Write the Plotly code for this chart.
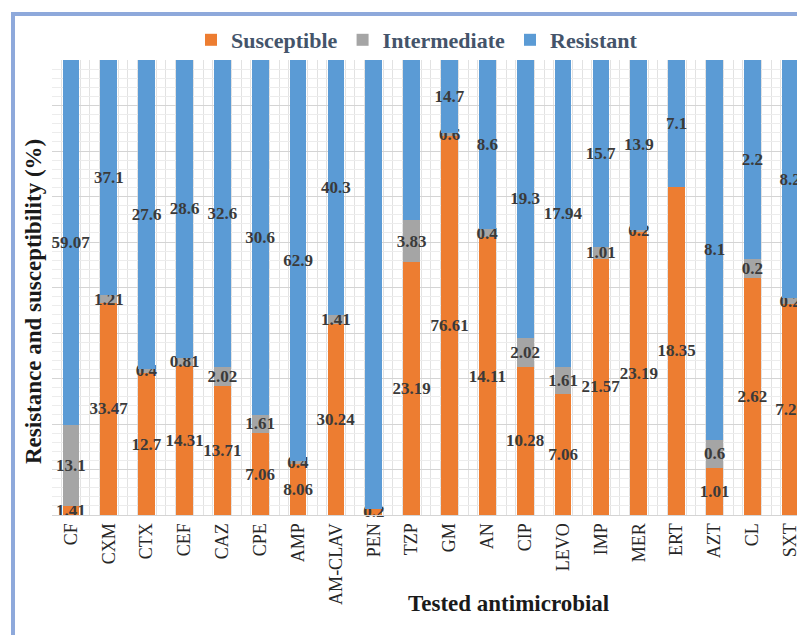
import plotly.graph_objects as go

categories = ["CF", "CXM", "CTX", "CEF", "CAZ", "CPE", "AMP", "AM-CLAV", "PEN", "TZP",
              "GM", "AN", "CIP", "LEVO", "IMP", "MER", "ERT", "AZT", "CL", "SXT"]
susceptible = [1.41, 33.47, 12.7, 14.31, 13.71, 7.06, 8.06, 30.24, 0.2, 23.19,
               76.61, 14.11, 10.28, 7.06, 21.57, 23.19, 18.35, 1.01, 2.62, 7.26]
intermediate = [13.1, 1.21, 0.4, 0.81, 2.02, 1.61, 0.4, 1.41, None, 3.83,
                0.6, 0.4, 2.02, 1.61, 1.01, 0.2, None, 0.6, 0.2, 0.2]
resistant = [59.07, 37.1, 27.6, 28.6, 32.6, 30.6, 62.9, 40.3, 14.9, 14.7,
             14.7, 8.6, 19.3, 17.94, 15.7, 13.9, 7.1, 8.1, 2.2, 8.2]

series = [
    ("Susceptible", susceptible, "#ED7D31"),
    ("Intermediate", intermediate, "#A5A5A5"),
    ("Resistant", resistant, "#5B9BD5"),
]

SERIF = "Liberation Serif, Times New Roman, serif"
xpos = list(range(len(categories)))

fig = go.Figure()
for name, vals, color in series:
    fig.add_trace(go.Bar(
        x=xpos,
        y=[0 if v is None else v for v in vals],
        name=name,
        marker=dict(color=color, line=dict(width=0)),
        text=["" if v is None else f"{v:g}" for v in vals],
        textposition="inside",
        insidetextanchor="middle",
        constraintext="none",
        textangle=0,
        textfont=dict(family=SERIF, size=17, color="#3a3a3a", weight="bold"),
        cliponaxis=False,
        hoverinfo="skip",
    ))

# page body has an 8px margin, so the figure is 8px smaller and offset
OFF = 8
W, H = 805 - OFF, 643 - 2 * OFF
ML, MR, MT = 52 - OFF, 0, 60 - OFF
PLOT_BOTTOM = 515 - OFF
MB = H - PLOT_BOTTOM
pw = W - ML - MR
ph = H - MT - MB

def px_x(x):
    return (x - OFF - ML) / pw

def px_y(y):
    return (PLOT_BOTTOM - (y - OFF)) / ph

fig.update_layout(
    width=W, height=H,
    barmode="stack",
    barnorm="percent",
    bargap=0.56,
    paper_bgcolor="white",
    plot_bgcolor="white",
    margin=dict(l=ML, r=MR, t=MT, b=MB),
    showlegend=True,
    legend=dict(
        orientation="h",
        x=px_x(417), xanchor="center",
        y=px_y(40), yanchor="middle",
        traceorder="normal",
        font=dict(family=SERIF, size=22, color="#44546A", weight="bold"),
        bgcolor="rgba(0,0,0,0)",
    ),
    xaxis=dict(
        range=[-0.5, 19.39],
        tickmode="array",
        tickvals=xpos,
        ticktext=categories,
        tickangle=-90,
        ticks="",
        showgrid=False,
        zeroline=False,
        showline=True,
        linecolor="#d4d4d4",
        linewidth=1,
        tickfont=dict(family=SERIF, size=18, color="#262626"),
        minor=dict(tickmode="linear", tick0=0, dtick=0.25, showgrid=True,
                   gridcolor="#e2e2e2", gridwidth=1, ticks=""),
    ),
    yaxis=dict(
        range=[0, 100],
        showticklabels=False,
        ticks="",
        tickmode="linear", tick0=0, dtick=10,
        showgrid=True,
        gridcolor="#d4d4d4",
        gridwidth=1,
        zeroline=False,
        showline=False,
        minor=dict(tickmode="linear", tick0=0, dtick=2, showgrid=True,
                   gridcolor="#ececec", gridwidth=1, ticks=""),
    ),
    annotations=[
        dict(text="Resistance and susceptibility (%)",
             xref="paper", yref="paper",
             x=px_x(33), y=px_y(302),
             xanchor="center", yanchor="middle",
             textangle=-90, showarrow=False,
             font=dict(family=SERIF, size=23, color="#1a1a1a", weight="bold")),
        dict(text="Tested antimicrobial",
             xref="paper", yref="paper",
             x=px_x(508), y=px_y(603),
             xanchor="center", yanchor="middle",
             showarrow=False,
             font=dict(family=SERIF, size=23, color="#1a1a1a", weight="bold")),
    ],
    shapes=[
        dict(type="rect", xref="paper", yref="paper",
             x0=px_x(13), x1=1.2,
             y0=-0.5, y1=px_y(14),
             line=dict(color="#8EA9DB", width=4),
             fillcolor="rgba(0,0,0,0)", layer="above"),
    ],
)

fig.write_html("out.html")
